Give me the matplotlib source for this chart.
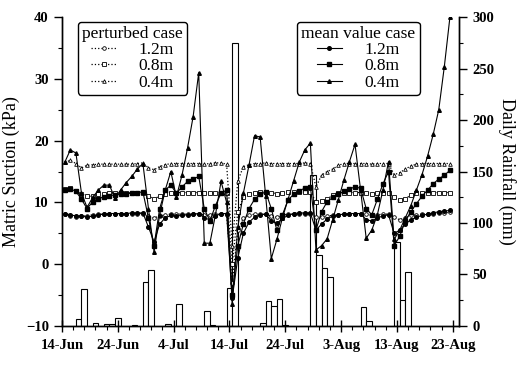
import numpy as np
import matplotlib.pyplot as plt
from matplotlib.ticker import MultipleLocator

plt.rcParams['font.family'] = ['Liberation Serif', 'DejaVu Serif']

# x axis: days after 14-Jun
date_ticks = [0, 10, 20, 30, 40, 50, 60, 70]
date_labels = ['14-Jun', '24-Jun', '4-Jul', '14-Jul', '24-Jul', '3-Aug', '13-Aug', '23-Aug']

# daily rainfall (mm)
rain_day = [3, 4, 6, 8, 9, 10, 13, 15, 16, 19, 21, 26, 27, 30, 31, 36, 37, 38, 39, 40,
            45, 46, 47, 48, 54, 55, 60, 61, 62]
rain_mm = [7, 36, 3, 2, 2, 8, 1, 43, 54, 2, 21, 15, 1, 37, 275, 3, 24, 19, 26, 1,
           147, 69, 56, 48, 18, 5, 82, 25, 52]

# matric suction (kPa), one value per day
day = np.arange(70) + 0.5

mean_12 = [8.2, 8.0, 7.8, 7.8, 7.6, 7.8, 8.0, 8.1, 8.2, 8.2,
           8.2, 8.2, 8.3, 8.3, 8.3, 6.0, 3.6, 6.5, 7.5, 7.9,
           7.8, 7.9, 8.0, 8.1, 8.2, 7.5, 7.2, 7.8, 8.2, 8.2,
           -5.5, 1.0, 5.0, 6.8, 7.6, 8.0, 8.1, 7.0, 6.6, 7.4,
           7.9, 8.2, 8.3, 8.3, 8.3, 5.5, 6.5, 7.3, 7.8, 8.0,
           8.1, 8.2, 8.2, 8.2, 7.2, 7.0, 7.5, 7.8, 8.0, 5.0,
           5.5, 6.5, 7.2, 7.6, 7.9, 8.1, 8.3, 8.5, 8.6, 8.7]
mean_08 = [12.0, 12.2, 11.8, 10.5, 9.0, 10.1, 10.6, 10.9, 11.1, 11.2,
           11.3, 11.4, 11.5, 11.6, 11.7, 7.5, 3.0, 9.0, 12.0, 12.8,
           11.5, 12.5, 13.4, 13.8, 14.2, 9.0, 7.0, 9.5, 11.5, 12.0,
           -5.0, 3.0, 6.5, 9.0, 10.5, 11.3, 11.7, 9.0, 5.5, 8.0,
           10.4, 11.3, 11.9, 12.3, 12.5, 5.5, 8.5, 10.1, 10.8, 11.3,
           11.8, 12.2, 12.5, 12.3, 9.0, 8.0, 10.5, 13.0, 15.0, 3.0,
           4.5, 7.0, 8.5, 9.8, 11.0, 12.0, 13.0, 13.8, 14.4, 15.2]
mean_04 = [16.5, 18.5, 18.0, 11.5, 9.2, 10.8, 12.0, 12.8, 12.8, 10.7,
           12.0, 13.2, 14.2, 15.4, 16.3, 9.0, 2.0, 8.0, 12.0, 15.0,
           10.9, 14.4, 18.8, 23.9, 31.0, 3.4, 3.4, 8.0, 13.4, 10.0,
           -6.5, 6.0, 11.5, 16.0, 20.8, 20.6, 11.0, 0.9, 4.0, 7.5,
           10.5, 13.5, 16.5, 18.5, 19.6, 2.3, 3.0, 4.1, 7.2, 10.4,
           13.6, 16.6, 19.4, 12.0, 4.2, 5.5, 8.0, 12.0, 16.6, 4.0,
           5.5, 7.5, 9.5, 12.0, 14.5, 17.5, 21.0, 25.0, 32.0, 40.0]

pert_12 = [8.2, 7.8, 7.7, 7.8, 7.8, 8.0, 8.1, 8.1, 8.1, 8.1,
           8.1, 8.1, 8.1, 8.2, 8.2, 7.8, 7.5, 7.8, 8.0, 8.1,
           8.1, 8.1, 8.1, 8.1, 8.1, 8.0, 8.0, 8.1, 8.1, 8.0,
           -3.0, 5.5, 7.4, 7.9, 8.1, 8.1, 8.1, 7.8, 7.6, 7.9,
           8.1, 8.1, 8.1, 8.2, 8.2, 7.6, 7.7, 7.8, 7.9, 8.0,
           8.1, 8.1, 8.1, 8.1, 8.1, 7.9, 8.0, 8.1, 8.1, 7.6,
           7.2, 7.5, 7.9, 8.0, 8.1, 8.2, 8.2, 8.3, 8.3, 8.4]
pert_08 = [12.2, 12.3, 11.8, 11.4, 11.0, 11.0, 11.3, 11.4, 11.5, 11.5,
           11.5, 11.5, 11.6, 11.6, 11.6, 11.0, 10.6, 11.0, 11.4, 11.6,
           11.6, 11.6, 11.6, 11.6, 11.6, 11.5, 11.5, 11.6, 11.6, 11.5,
           0.0, 8.5, 10.8, 11.4, 11.6, 11.7, 11.7, 11.6, 11.4, 11.6,
           11.7, 11.7, 11.7, 11.7, 11.7, 10.1, 10.3, 10.5, 11.2, 11.6,
           11.6, 11.6, 11.6, 11.6, 11.6, 11.4, 11.5, 11.6, 11.6, 10.8,
           10.4, 10.6, 11.2, 11.5, 11.6, 11.6, 11.6, 11.6, 11.6, 11.6]
pert_04 = [16.5, 16.8, 16.3, 15.6, 16.0, 16.1, 16.2, 16.2, 16.2, 16.2,
           16.2, 16.2, 16.2, 16.3, 16.4, 15.6, 15.3, 15.8, 16.1, 16.3,
           16.3, 16.3, 16.3, 16.3, 16.3, 16.2, 16.3, 16.4, 16.4, 16.2,
           3.0, 13.5, 15.8, 16.1, 16.3, 16.3, 16.4, 16.3, 16.3, 16.3,
           16.3, 16.3, 16.3, 16.4, 16.3, 12.5, 14.4, 15.0, 15.4, 16.0,
           16.3, 16.3, 16.3, 16.3, 16.3, 16.2, 16.3, 16.3, 16.3, 14.5,
           14.8, 15.4, 15.9, 16.2, 16.3, 16.3, 16.3, 16.3, 16.3, 16.3]

fig = plt.figure(figsize=(5.25, 3.65), dpi=100)
ax = fig.add_axes([0.118, 0.107, 0.756, 0.846])
ax2 = ax.twinx()
ax.set_zorder(ax2.get_zorder() + 1)
ax.patch.set_visible(False)

# rainfall bars on the right axis
ax2.bar(rain_day, rain_mm, width=1.0, facecolor='white', edgecolor='black', linewidth=0.8)

# perturbed case: dotted lines, open markers
style_p = dict(color='black', ls=':', lw=0.9, mfc='white', ms=2.6, mew=0.6)
hp12, = ax.plot(day, pert_12, marker='o', **style_p)
hp08, = ax.plot(day, pert_08, marker='s', **style_p)
hp04, = ax.plot(day, pert_04, marker='^', **style_p)

# mean value case: solid lines, filled markers
style_m = dict(color='black', ls='-', lw=0.8, ms=2.6)
hm12, = ax.plot(day, mean_12, marker='o', **style_m)
hm08, = ax.plot(day, mean_08, marker='s', **style_m)
hm04, = ax.plot(day, mean_04, marker='^', **style_m)

ax.set_xlim(0, 71.1)
ax.set_ylim(-10, 40)
ax2.set_ylim(0, 300)

ax.set_xticks(date_ticks)
ax.set_xticklabels(date_labels)
ax.xaxis.set_minor_locator(MultipleLocator(2))
ax.yaxis.set_major_locator(MultipleLocator(10))
ax.yaxis.set_minor_locator(MultipleLocator(5))
ax2.yaxis.set_major_locator(MultipleLocator(50))
ax2.yaxis.set_minor_locator(MultipleLocator(25))

for a in (ax, ax2):
    a.spines['top'].set_visible(False)
    for s in a.spines.values():
        s.set_linewidth(1.0)
ax.tick_params(axis='x', which='major', direction='inout', length=9, width=1.0, labelsize=10.5, pad=5)
ax.tick_params(axis='x', which='minor', direction='out', length=3, width=0.8)
ax.tick_params(axis='y', which='major', direction='out', length=6, width=1.0, labelsize=10.5)
ax.tick_params(axis='y', which='minor', direction='out', length=3, width=0.8)
ax2.tick_params(axis='y', which='major', direction='out', length=6, width=1.0, labelsize=10.5)
ax2.tick_params(axis='y', which='minor', direction='out', length=3, width=0.8)
for lab in ax.get_xticklabels() + ax.get_yticklabels() + ax2.get_yticklabels():
    lab.set_fontweight('bold')

ax.set_ylabel('Matric Suction (kPa)', fontsize=13, labelpad=4)
ax2.set_ylabel('Daily Rainfall (mm)', fontsize=13, rotation=270, labelpad=16)

leg_kw = dict(loc='upper left', fontsize=12.5, title_fontsize=12.5, frameon=True, fancybox=True,
              edgecolor='black', framealpha=1, handlelength=1.4, handletextpad=1.3,
              labelspacing=0.0, borderpad=0.25, borderaxespad=0)
leg1 = ax.legend([hp12, hp08, hp04], ['1.2m', '0.8m', '0.4m'], title='perturbed case',
                 bbox_to_anchor=(0.04, 0.985), **leg_kw)
leg1.get_frame().set_linewidth(1.0)
ax.add_artist(leg1)
leg2 = ax.legend([hm12, hm08, hm04], ['1.2m', '0.8m', '0.4m'], title='mean value case',
                 bbox_to_anchor=(0.592, 0.985), **leg_kw)
leg2.get_frame().set_linewidth(1.0)

fig.savefig('out.png', dpi=100)
